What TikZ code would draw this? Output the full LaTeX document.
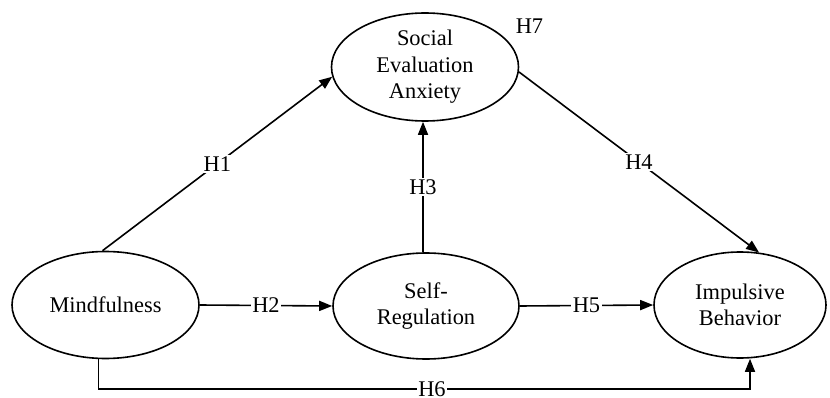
\documentclass[tikz,border=0pt]{standalone}
\usepackage{fontspec}
\setmainfont{Liberation Serif}
\usetikzlibrary{shapes.geometric,arrows.meta}
\begin{document}
\begin{tikzpicture}[x=1pt,y=-1pt,
  ebox/.style={draw,ellipse,line width=1.6pt,inner sep=0pt},
  etext/.style={align=center,font=\fontsize{22.4}{26.5}\selectfont,inner sep=0pt},
  arr/.style={line width=1.6pt,-{Triangle[length=13pt,width=10pt]}},
  lab/.style={fill=white,inner sep=1.5pt,font=\fontsize{22.4}{26.5}\selectfont}]
\useasboundingbox (0,0) rectangle (830,398);
\node[ebox,minimum width=187pt,minimum height=108pt] (s) at (425,67) {};
\node[etext] (st) at (s) {Social\\Evaluation\\Anxiety};
\node[ebox,minimum width=187pt,minimum height=107pt] (m) at (105.5,305) {};
\node[etext] (mt) at (m) {Mindfulness};
\node[ebox,minimum width=186pt,minimum height=106pt] (r) at (426,306) {};
\node[etext] (rt) at (r) {Self-\\Regulation};
\node[ebox,minimum width=172pt,minimum height=106pt] (i) at (740,305) {};
\node[etext] (it) at (i) {Impulsive\\Behavior};
\node[etext] (h7) at (529.5,26) {H7};
\coordinate (h6) at (432,389);
\draw[arr] ([xshift=-3pt]m.north) -- node[lab]{H1} (s.186);
\draw[arr] (m.east) -- node[lab]{H2} (r.west);
\draw[arr] ([xshift=-3pt]r.north) -- node[lab]{H3} ([xshift=-2pt]s.south);
\draw[arr] (s.357) -- node[lab]{H4} (i.70);
\draw[arr] (r.east) -- node[lab]{H5} (i.west);
\draw[arr] ([xshift=-7pt]m.south) |- (h6) -| ([xshift=10pt]i.south);
\node[lab,inner ysep=0pt] (h6t) at (h6) {H6};
\end{tikzpicture}
\end{document}
